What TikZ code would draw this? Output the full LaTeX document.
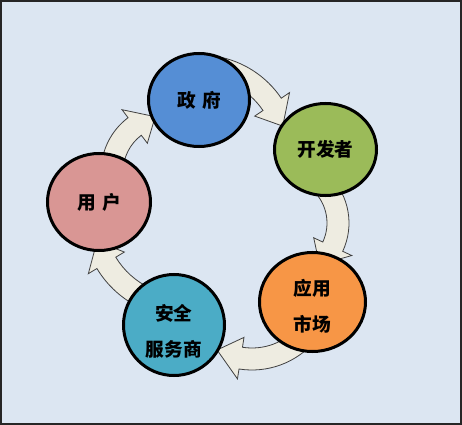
\documentclass[tikz,border=0pt]{standalone}
\usepackage{fontspec}
\newfontfamily\cjk{Noto Sans CJK SC}
\usetikzlibrary{shapes.geometric}
\definecolor{bgblue}{HTML}{DCE6F2}
\definecolor{govblue}{HTML}{558ED5}
\definecolor{devgreen}{HTML}{9BBB59}
\definecolor{marketorange}{HTML}{F79646}
\definecolor{secteal}{HTML}{4BACC6}
\definecolor{userpink}{HTML}{D99694}
\definecolor{arrowcream}{HTML}{EEECE1}
\newcommand{\bandw}{11}
\newcommand{\headw}{21}
\newcommand{\cyclearrow}[5]{%
  \draw[flow] ([shift={(#1)}]#3:{#2+\bandw}) arc[start angle=#3, end angle=#4, radius={#2+\bandw}]
    -- ([shift={(#1)}]#4:{#2+\headw}) -- ([shift={(#1)}]#5:#2)
    -- ([shift={(#1)}]#4:{#2-\headw}) -- ([shift={(#1)}]#4:{#2-\bandw})
    arc[start angle=#4, end angle=#3, radius={#2-\bandw}] -- cycle;}
\begin{document}
\begin{tikzpicture}[x=0.75pt, y=0.75pt,
        stage/.style={ellipse, draw=black, line width=2.25pt, inner sep=0pt,
            font=\cjk\bfseries\fontsize{14}{27}\selectfont, align=center},
        flow/.style={draw=black!75, line width=0.6pt, fill=arrowcream}]
        \useasboundingbox (0,0) rectangle (462,-425);
        \draw[line width=1.5pt, draw=black!85, fill=bgblue] (1,-1) rectangle (461,-424);
        \coordinate (a1) at (200,-153);
        \coordinate (a2) at (282,-223);
        \coordinate (a3) at (252,-287);
        \coordinate (a4) at (183.5,-216.5);
        \coordinate (a5) at (169,-172);
        \cyclearrow{a1}{87}{80}{34}{18}
        \cyclearrow{a2}{56}{45}{-25}{-48}
        \cyclearrow{a3}{72}{-40}{-99}{-119}
        \cyclearrow{a4}{90}{-115}{-149}{-164}
        \cyclearrow{a5}{57}{-180}{-233}{-256}
        \node[stage, fill=govblue, minimum width=75.75pt, minimum height=69.75pt] (gov) at (199,-100) {政\hspace{0.35em}府};
        \node[stage, fill=devgreen, minimum width=76.5pt, minimum height=69pt] (dev) at (325.5,-149.5) {开发者};
        \node[stage, fill=marketorange, minimum width=79.5pt, minimum height=74.25pt,
            label={[font=\cjk\bfseries\fontsize{14}{27}\selectfont, align=center, yshift=-3.5pt]center:应用\\市场}] (market) at (312.5,-302) {};
        \node[stage, fill=secteal, minimum width=75.75pt, minimum height=75.75pt,
            label={[font=\cjk\bfseries\fontsize{14}{27}\selectfont, align=center, yshift=-4.5pt]center:安全\\服务商}] (sec) at (174,-325) {};
        \node[stage, fill=userpink, minimum width=77.25pt, minimum height=72.75pt] (user) at (99,-202) {用\hspace{0.35em}户};
\end{tikzpicture}
\end{document}
